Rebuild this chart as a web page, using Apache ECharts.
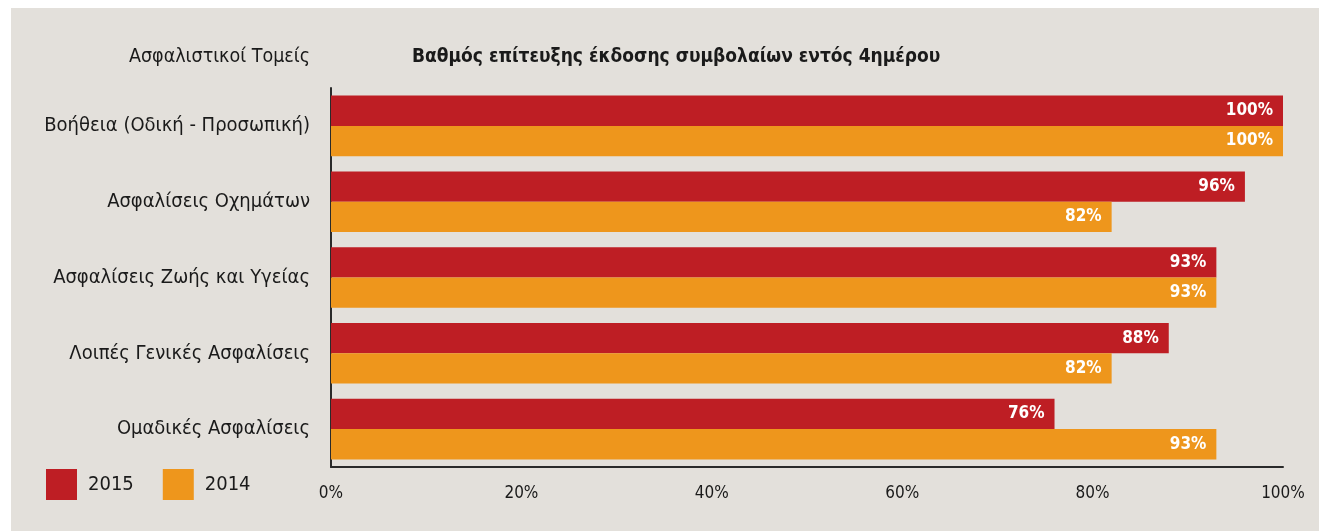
<!DOCTYPE html>
<html>
<head>
<meta charset="utf-8">
<script src="https://cdn.jsdelivr.net/npm/echarts@6/dist/echarts.min.js"></script>
<style>
  html, body { margin: 0; padding: 0; background: #ffffff; }
  #chart { width: 1319px; height: 531px; }
</style>
</head>
<body>
<div id="chart"></div>
<script>
// Insurance sectors and issuance rate of policies within four days
const categories = [
  'Βοήθεια (Οδική - Προσωπική)',
  'Ασφαλίσεις Οχημάτων',
  'Ασφαλίσεις Ζωής και Υγείας',
  'Λοιπές Γενικές Ασφαλίσεις',
  'Ομαδικές Ασφαλίσεις'
];
const values2015 = [100, 96, 93, 88, 76];
const values2014 = [100, 82, 93, 82, 93];
const seriesNames = ['2015', '2014'];
const xTicks = [0, 20, 40, 60, 80, 100];

const FONT = '"Liberation Sans Narrow", "DejaVu Sans Condensed", "Noto Sans", sans-serif';
const RED = '#be1e24';
const ORANGE = '#ee961c';

const chart = echarts.init(document.getElementById('chart'), null, { renderer: 'canvas' });

const valueLabel = {
  show: true,
  position: 'insideRight',
  distance: 10,
  color: '#ffffff',
  fontFamily: FONT,
  fontWeight: 'bold',
  fontSize: 17,
  formatter: p => p.value + '%'
};

chart.setOption({
  backgroundColor: '#ffffff',
  animation: false,
  graphic: [
    {
      type: 'rect', z: -10, silent: true,
      shape: { x: 11, y: 8, width: 1308, height: 523 },
      style: { fill: '#e3e0db' }
    },
    {
      type: 'text', x: 310, y: 57,
      style: {
        text: 'Ασφαλιστικοί Τομείς', font: '19.5px ' + FONT, fill: '#1a1a1a',
        align: 'right', verticalAlign: 'middle'
      }
    },
    {
      type: 'text', x: 412, y: 57,
      style: {
        text: 'Βαθμός επίτευξης έκδοσης συμβολαίων εντός 4ημέρου', font: 'bold 19px ' + FONT, fill: '#1a1a1a',
        align: 'left', verticalAlign: 'middle'
      }
    }
  ],
  legend: {
    left: 46, top: 469, padding: 0,
    itemWidth: 31, itemHeight: 31,
    itemGap: 29,
    icon: 'rect',
    data: seriesNames,
    textStyle: { fontFamily: FONT, fontSize: 20, color: '#1a1a1a', padding: [0, 0, 0, 6] }
  },
  grid: { left: 331, right: 36, top: 88, bottom: 64, containLabel: false },
  xAxis: {
    type: 'value',
    min: xTicks[0], max: xTicks[xTicks.length - 1], interval: 20,
    splitLine: { show: false },
    axisTick: { show: false },
    axisLine: { show: true, lineStyle: { color: '#2a2a2a', width: 2 } },
    axisLabel: {
      margin: 18,
      fontFamily: FONT, fontSize: 17, color: '#1a1a1a',
      formatter: v => v + '%'
    }
  },
  yAxis: {
    type: 'category',
    data: categories,
    inverse: true,
    axisTick: { show: false },
    axisLine: { show: true, lineStyle: { color: '#2a2a2a', width: 2 } },
    axisLabel: { margin: 21, fontFamily: FONT, fontSize: 20, color: '#1a1a1a' }
  },
  series: [
    {
      name: seriesNames[0], type: 'bar', data: values2015,
      itemStyle: { color: RED },
      barGap: '0%', barCategoryGap: '20%',
      label: valueLabel
    },
    {
      name: seriesNames[1], type: 'bar', data: values2014,
      itemStyle: { color: ORANGE },
      barGap: '0%', barCategoryGap: '20%',
      label: valueLabel
    }
  ]
});
</script>
</body>
</html>
